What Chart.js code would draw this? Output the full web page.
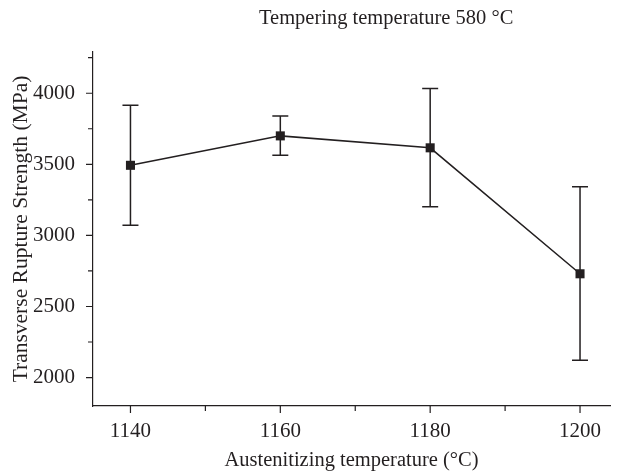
<!DOCTYPE html>
<html>
<head>
<meta charset="utf-8">
<script src="https://cdn.jsdelivr.net/npm/chart.js@4.4.0/dist/chart.umd.min.js"></script>
<style>
  html, body { margin: 0; padding: 0; background: #fff; }
  #wrap { width: 618px; height: 473px; }
</style>
</head>
<body>
<div id="wrap"><canvas id="chart"></canvas></div>
<script>
// data
const temps = [1140, 1160, 1180, 1200];
const strength = [3493, 3700, 3616, 2730];
const errLow = [3072, 3563, 3202, 2122];
const errHigh = [3916, 3840, 4033, 3343];

const xMajor = [1140, 1160, 1180, 1200];
const xMinor = [1150, 1170, 1190];
const yMajor = [2000, 2500, 3000, 3500, 4000];
const yMinor = [2250, 2750, 3250, 3750, 4250];

const INK = '#231f20';
const FONT = '"Liberation Serif", "Times New Roman", serif';

// error bars, tick marks, title
const extras = {
    id: 'extras',
    beforeDatasetsDraw(chart) {
        const ctx = chart.ctx;
        const x = chart.scales.x, y = chart.scales.y;
        ctx.save();
        ctx.strokeStyle = INK;
        ctx.lineWidth = 1.5;
        temps.forEach((t, i) => {
            const px = x.getPixelForValue(t);
            const lo = y.getPixelForValue(errLow[i]);
            const hi = y.getPixelForValue(errHigh[i]);
            ctx.beginPath();
            ctx.moveTo(px, lo); ctx.lineTo(px, hi);
            ctx.moveTo(px - 8, lo); ctx.lineTo(px + 8, lo);
            ctx.moveTo(px - 8, hi); ctx.lineTo(px + 8, hi);
            ctx.stroke();
        });
        ctx.restore();
    },
    afterDraw(chart) {
        const ctx = chart.ctx;
        const x = chart.scales.x, y = chart.scales.y;
        const area = chart.chartArea;
        ctx.save();
        ctx.strokeStyle = INK;
        ctx.lineWidth = 1.2;
        ctx.beginPath();
        xMajor.forEach(v => { const p = x.getPixelForValue(v); ctx.moveTo(p, area.bottom); ctx.lineTo(p, area.bottom + 7); });
        xMinor.forEach(v => { const p = x.getPixelForValue(v); ctx.moveTo(p, area.bottom); ctx.lineTo(p, area.bottom + 5); });
        yMajor.forEach(v => { const p = y.getPixelForValue(v); ctx.moveTo(area.left, p); ctx.lineTo(area.left - 7, p); });
        yMinor.forEach(v => { const p = y.getPixelForValue(v); ctx.moveTo(area.left, p); ctx.lineTo(area.left - 5, p); });
        ctx.stroke();

        ctx.fillStyle = INK;
        ctx.font = '20.5px ' + FONT;
        ctx.textAlign = 'center';
        ctx.textBaseline = 'middle';
        ctx.fillText('Tempering temperature 580 °C', area.left + (area.right - area.left) * 0.567, 19);
        ctx.restore();
    }
};

new Chart(document.getElementById('chart'), {
    type: 'line',
    data: {
        datasets: [{
            data: temps.map((t, i) => ({ x: t, y: strength[i] })),
            borderColor: INK,
            borderWidth: 1.5,
            backgroundColor: INK,
            pointStyle: 'rect',
            pointRadius: 6.4,
            pointHoverRadius: 6.4,
            pointBorderWidth: 0,
            tension: 0
        }]
    },
    options: {
        responsive: true,
        maintainAspectRatio: false,
        animation: false,
        events: [],
        layout: { padding: { top: 52, right: 8, left: 0, bottom: 0 } },
        plugins: { legend: { display: false }, tooltip: { enabled: false } },
        scales: {
            x: {
                type: 'linear',
                min: 1135,
                max: 1204,
                afterFit: s => { s.height = 67; },
                afterBuildTicks: s => { s.ticks = xMajor.map(v => ({ value: v })); },
                grid: { display: false },
                border: { display: true, color: INK, width: 1.2 },
                ticks: { color: INK, font: { family: FONT, size: 21 }, padding: 5, maxRotation: 0, callback: v => String(v) },
                title: { display: true, text: 'Austenitizing temperature (°C)', color: INK, font: { family: FONT, size: 20.5 }, padding: { top: 0, bottom: 0 } }
            },
            y: {
                min: 1800,
                max: 4290,
                afterFit: s => { s.width = 93; },
                afterBuildTicks: s => { s.ticks = yMajor.map(v => ({ value: v })); },
                grid: { display: false },
                border: { display: true, color: INK, width: 1.2 },
                ticks: { color: INK, font: { family: FONT, size: 21 }, padding: 10, callback: v => String(v) },
                title: { display: true, text: 'Transverse Rupture Strength (MPa)', color: INK, font: { family: FONT, size: 21.5 }, padding: { top: 8, bottom: 0 } }
            }
        }
    },
    plugins: [extras]
});
</script>
</body>
</html>
